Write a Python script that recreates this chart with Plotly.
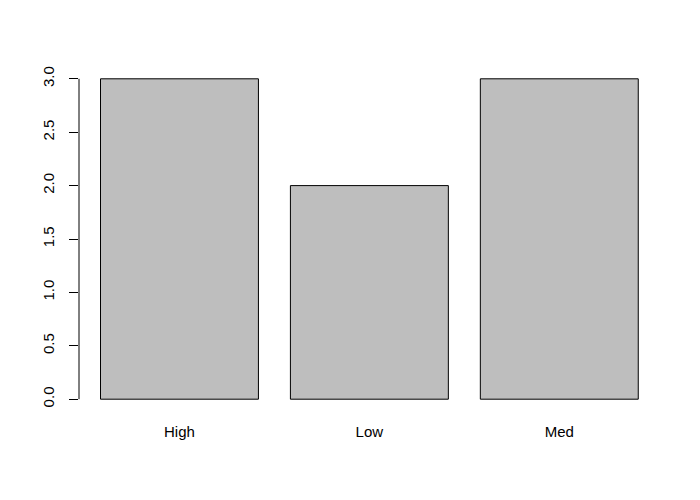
import plotly.graph_objects as go

categories = ["High", "Low", "Med"]
counts = [3, 2, 3]
y_ticks = [0, 0.5, 1.0, 1.5, 2.0, 2.5, 3.0]
y_tick_labels = ["0.0", "0.5", "1.0", "1.5", "2.0", "2.5", "3.0"]

fig = go.Figure()
fig.add_trace(go.Bar(
    x=categories, y=counts,
    marker=dict(color="#BEBEBE", line=dict(color="black", width=1)),
    hoverinfo="skip",
))

fig.add_shape(type="line", xref="paper", yref="y", x0=0, x1=0,
              y0=min(y_ticks), y1=max(y_ticks),
              line=dict(color="black", width=1))

# page body has an 8px default margin; compensate in the figure margins
fig.update_layout(
    width=700, height=500,
    margin=dict(l=70.5, r=49.3, t=58.2, b=96.2, pad=0),
    paper_bgcolor="white", plot_bgcolor="white",
    bargap=0.1684,
    showlegend=False,
    font=dict(family="Liberation Sans, Arial, sans-serif", size=15, color="black"),
    xaxis=dict(range=[-0.529, 2.525], showgrid=False, zeroline=False,
               showline=False, ticks="", ticklabelstandoff=9,
               tickfont=dict(size=15)),
    yaxis=dict(range=[-0.12, 3.12], tickvals=y_ticks, ticktext=y_tick_labels,
               showgrid=False, zeroline=False, showline=False,
               ticks="outside", ticklen=9, tickcolor="black", tickwidth=1,
               tickangle=-90, ticklabelstandoff=9, tickfont=dict(size=15)),
)

fig.write_html("out.html")
